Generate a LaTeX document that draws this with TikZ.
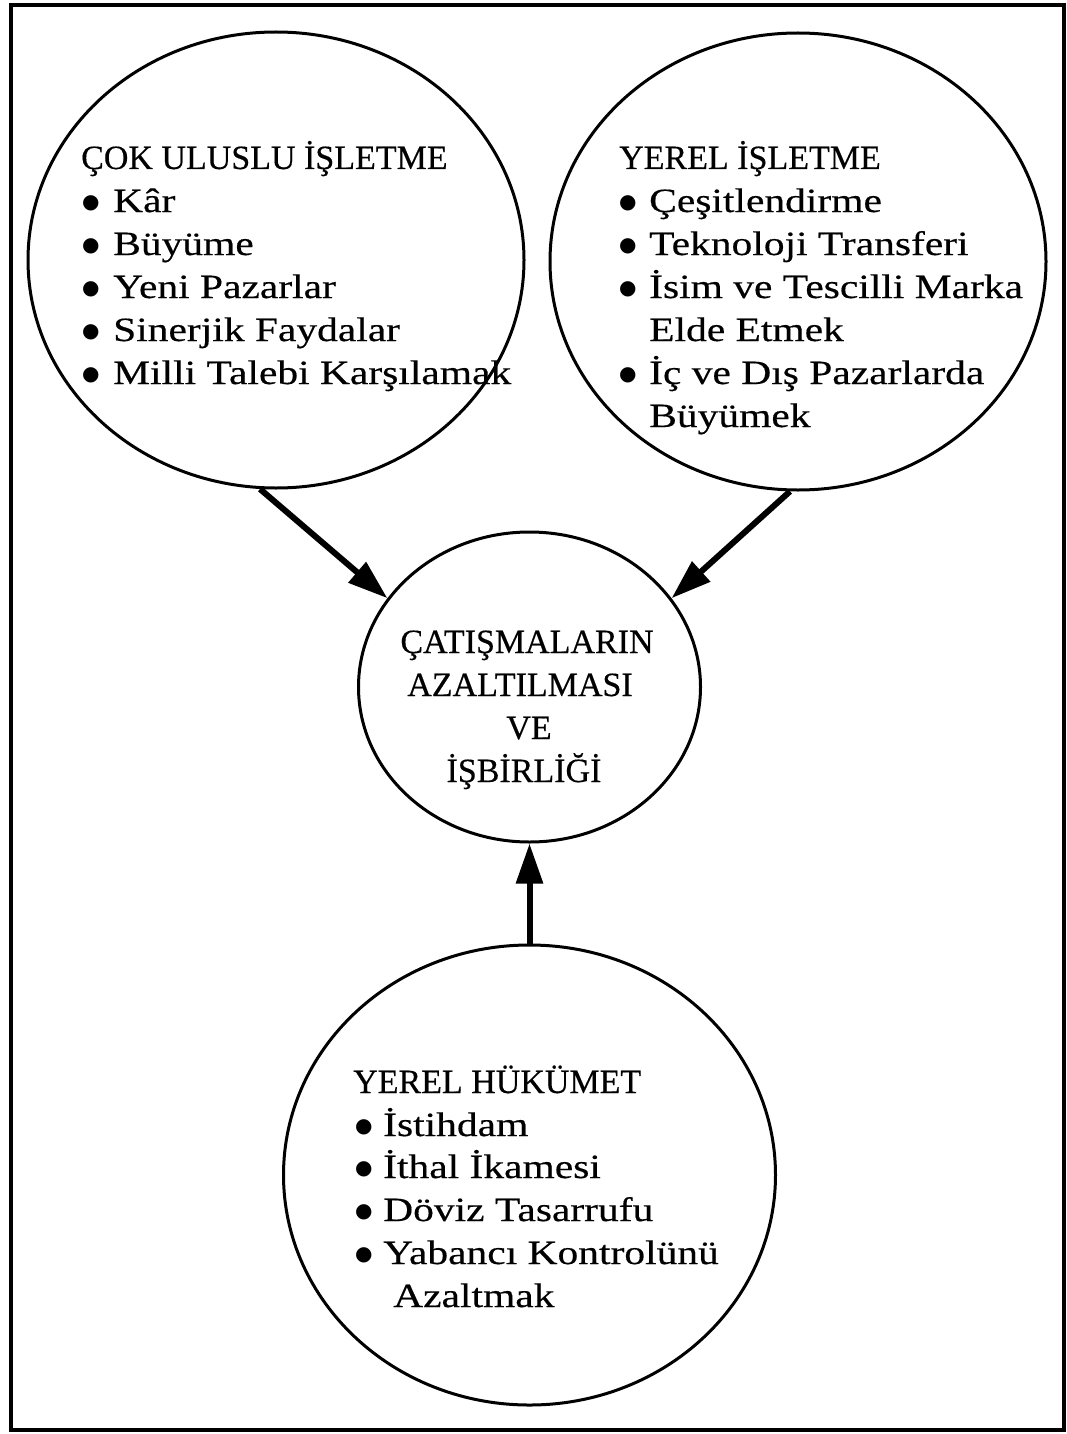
\documentclass[tikz,border=0pt]{standalone}
\usepackage{fontspec}
\setmainfont{Liberation Serif}
\newfontfamily\capfont[FakeBold=0.4]{Liberation Serif}
\newfontfamily\itmfont[FakeStretch=1.22,FakeBold=0.4]{Liberation Serif}
\newfontfamily\dotfont{DejaVu Sans}
\usetikzlibrary{shapes.geometric,arrows.meta}
\newcommand{\blt}[1]{\makebox[#1][l]{\raisebox{4pt}{\dotfont\fontsize{20}{20}\selectfont ●}}}
\tikzset{
  bubble/.style={draw, ellipse, line width=3pt, inner sep=0pt},
  ttl/.style={anchor=base west, inner sep=0pt, font=\capfont\fontsize{34}{34}\selectfont},
  ctr/.style={anchor=base, inner sep=0pt, font=\capfont\fontsize{34}{34}\selectfont},
  itm/.style={anchor=base west, inner sep=0pt, font=\itmfont\fontsize{34}{34}\selectfont},
  bigarrow/.style={line width=6pt, -{Triangle[length=40pt,width=26pt]}},
  frame/.style={line width=4pt}
}
\begin{document}
\begin{tikzpicture}[x=1pt,y=-1pt]
\useasboundingbox (0,0) rectangle (1067,1434);
\draw[frame] (11,5) rectangle (1064,1430);

% circles
\node[bubble, minimum width=496pt, minimum height=456pt] (tl) at (276,260) {};
\node[bubble, minimum width=496pt, minimum height=457pt] (tr) at (798,261.5) {};
\node[bubble, minimum width=342pt, minimum height=310pt] (mid) at (529.5,687) {};
\node[bubble, minimum width=492pt, minimum height=460pt] (bot) at (529.5,1175) {};

% top-left text
\node[ttl] (tlt) at (81,169) {ÇOK ULUSLU İŞLETME};
\node[itm] (tl1) at (82,212) {\blt{31pt}Kâr};
\node[itm] (tl2) at (82,255) {\blt{31pt}Büyüme};
\node[itm] (tl3) at (82,298) {\blt{31pt}Yeni Pazarlar};
\node[itm] (tl4) at (82,341) {\blt{31pt}Sinerjik Faydalar};
\node[itm] (tl5) at (82,384) {\blt{31pt}Milli Talebi Karşılamak};

% top-right text
\node[ttl] (trt) at (619,169) {YEREL İŞLETME};
\node[itm] (tr1) at (619,212) {\blt{30pt}Çeşitlendirme};
\node[itm] (tr2) at (619,255) {\blt{30pt}Teknoloji Transferi};
\node[itm] (tr3) at (619,298) {\blt{30pt}İsim ve Tescilli Marka};
\node[itm] (tr3b) at (649,341) {Elde Etmek};
\node[itm] (tr4) at (619,384) {\blt{30pt}İç ve Dış Pazarlarda};
\node[itm] (tr4b) at (649,427) {Büyümek};

% middle text
\node[ctr] (m1) at (527,653) {ÇATIŞMALARIN};
\node[ctr] (m2) at (520,696) {AZALTILMASI};
\node[ctr] (m3) at (529,739) {VE};
\node[ctr] (m4) at (524,782) {İŞBİRLİĞİ};

% bottom text
\node[ttl] (bt) at (353,1093) {YEREL HÜKÜMET};
\node[itm] (b1) at (355,1136) {\blt{28pt}İstihdam};
\node[itm] (b2) at (355,1178) {\blt{28pt}İthal İkamesi};
\node[itm] (b3) at (355,1221) {\blt{28pt}Döviz Tasarrufu};
\node[itm] (b4) at (355,1264) {\blt{28pt}Yabancı Kontrolünü};
\node[itm] (b4b) at (393,1307) {Azaltmak};

% arrows
\draw[bigarrow] (tl.266) -- (mid.148);
\draw[bigarrow] (tr.268) -- (mid.32);
\draw[bigarrow] (bot.north) -- (mid.south);
\end{tikzpicture}
\end{document}
